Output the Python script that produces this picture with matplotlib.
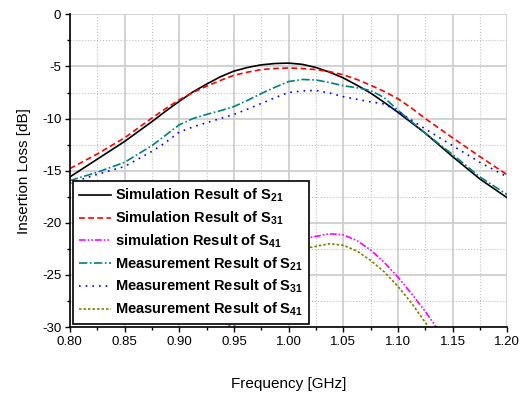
import matplotlib
matplotlib.use("Agg")
import matplotlib.pyplot as plt
from matplotlib.ticker import MultipleLocator, FormatStrFormatter

plt.rcParams['font.family'] = ['Liberation Sans', 'DejaVu Sans']
plt.rcParams['axes.unicode_minus'] = False
plt.rcParams['mathtext.fontset'] = 'custom'
plt.rcParams['mathtext.rm'] = 'Liberation Sans:bold'
plt.rcParams['mathtext.it'] = 'Liberation Sans:bold'
plt.rcParams['mathtext.bf'] = 'Liberation Sans:bold'

# frequency points (GHz) and insertion loss (dB)
f_main = [0.80, 0.825, 0.85, 0.875, 0.8875, 0.90, 0.9125, 0.925, 0.9375, 0.95, 0.9625, 0.975,
          0.9875, 1.00, 1.0125, 1.025, 1.0375, 1.05, 1.0625, 1.075, 1.0875, 1.10, 1.1125,
          1.125, 1.15, 1.175, 1.20]

sim_s21 = [-15.6, -13.9, -12.2, -10.3, -9.3, -8.35, -7.45, -6.7, -6.0, -5.45, -5.1, -4.85,
           -4.72, -4.68, -4.8, -5.1, -5.55, -6.1, -6.8, -7.55, -8.45, -9.4, -10.4,
           -11.4, -13.65, -15.8, -17.6]
sim_s31 = [-14.8, -13.4, -11.85, -9.95, -9.05, -8.2, -7.5, -6.9, -6.35, -5.85, -5.55, -5.3,
           -5.2, -5.15, -5.2, -5.3, -5.5, -5.8, -6.25, -6.8, -7.4, -8.1, -9.0,
           -10.0, -11.85, -13.65, -15.4]
meas_s21 = [-15.95, -15.15, -14.2, -12.6, -11.6, -10.6, -10.0, -9.6, -9.25, -8.85, -8.25, -7.6,
            -7.0, -6.45, -6.25, -6.3, -6.55, -6.85, -7.05, -7.3, -8.0, -9.2, -10.3,
            -11.4, -13.45, -15.6, -17.3]
meas_s31 = [-16.2, -15.35, -14.6, -13.15, -12.3, -11.3, -10.8, -10.4, -10.0, -9.6, -9.1, -8.55,
            -8.0, -7.5, -7.35, -7.3, -7.55, -7.9, -8.15, -8.4, -8.6, -9.3, -10.15,
            -11.0, -12.6, -14.2, -15.6]

f_s41_sim = [0.945, 0.97, 0.995, 1.02, 1.0375, 1.05, 1.0625, 1.075, 1.0875, 1.10, 1.1125, 1.125, 1.135]
sim_s41 = [-30.0, -25.5, -23.0, -21.4, -21.05, -21.15, -21.7, -22.6, -23.8, -25.2, -26.8, -28.5, -30.0]
f_s41_meas = [0.95, 0.975, 1.00, 1.02, 1.0375, 1.05, 1.0625, 1.075, 1.0875, 1.10, 1.1125, 1.128]
meas_s41 = [-30.0, -25.8, -23.5, -22.35, -22.0, -22.15, -22.7, -23.6, -24.7, -26.1, -27.7, -30.0]

labels = ['Simulation Result of S$_{21}$', 'Simulation Result of S$_{31}$',
          'simulation Result of S$_{41}$', 'Measurement Result of S$_{21}$',
          'Measurement Result of S$_{31}$', 'Measurement Result of S$_{41}$']

fig = plt.figure(figsize=(5.29, 3.97), dpi=100)
ax = fig.add_axes([0.132, 0.176, 0.827, 0.788])

lw = 1.2
ax.plot(f_main, sim_s21, color='black', lw=lw, ls='-', label=labels[0])
ax.plot(f_main, sim_s31, color='#ff0000', lw=lw, ls=(0, (3.5, 2)), label=labels[1])
ax.plot(f_s41_sim, sim_s41, color='#ff00ff', lw=lw, ls=(0, (4, 1.2, 1, 1.2, 1, 1.2)), label=labels[2])
ax.plot(f_main, meas_s21, color='#008080', lw=lw, ls=(0, (5, 1.5, 1, 1.5)), label=labels[3])
ax.plot(f_main, meas_s31, color='#0000ff', lw=lw, ls=(0, (1, 3)), label=labels[4])
ax.plot(f_s41_meas, meas_s41, color='#808000', lw=lw, ls=(0, (1.5, 1.2)), label=labels[5])

ax.set_xlim(0.80, 1.20)
ax.set_ylim(-30, 0)
ax.xaxis.set_major_locator(MultipleLocator(0.05))
ax.xaxis.set_minor_locator(MultipleLocator(0.025))
ax.xaxis.set_major_formatter(FormatStrFormatter('%.2f'))
ax.yaxis.set_major_locator(MultipleLocator(5))
ax.yaxis.set_minor_locator(MultipleLocator(2.5))

ax.grid(which='major', color='#cfcfcf', lw=1.3, ls='-')
ax.grid(which='minor', color='#c0c0c0', lw=0.8, ls=':')
ax.set_axisbelow(True)

for s in ['top', 'right']:
    ax.spines[s].set_visible(False)
for s in ['left', 'bottom']:
    ax.spines[s].set_linewidth(1.2)

ax.tick_params(which='major', direction='out', length=3.6, width=1, labelsize=9.5, pad=2.5)
ax.tick_params(which='minor', direction='out', length=2.2, width=1)

ax.set_xlabel('Frequency [GHz]', fontsize=11, labelpad=21)
ax.set_ylabel('Insertion Loss [dB]', fontsize=11, labelpad=8)

leg = ax.legend(loc='lower left', bbox_to_anchor=(0.0075, 0.0096), borderaxespad=0,
                prop={'weight': 'bold', 'size': 10.5}, handlelength=2.2, handletextpad=0.3,
                labelspacing=0.37, borderpad=0.4, fancybox=False, framealpha=1,
                edgecolor='black')
leg.get_frame().set_linewidth(1.2)

fig.savefig('out.png', dpi=100)
